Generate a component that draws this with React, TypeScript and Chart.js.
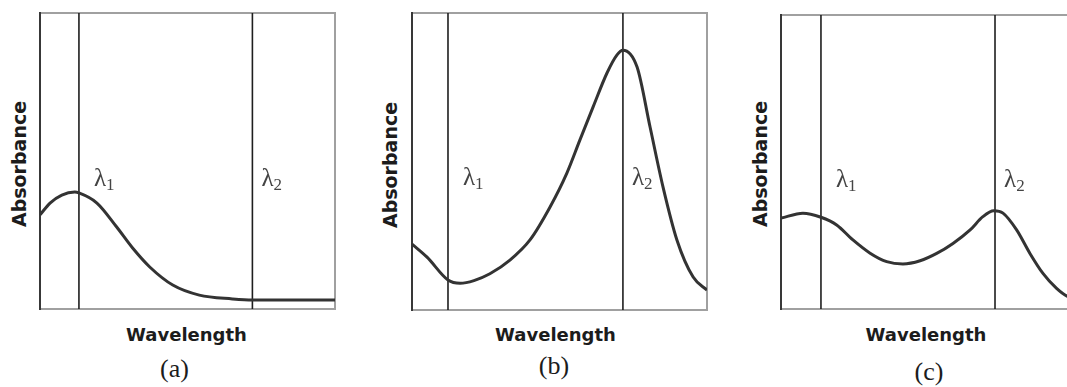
import React, { useEffect, useRef } from "react";
import { Chart, registerables } from "chart.js";

Chart.register(...registerables);

// ---- data (arbitrary wavelength units 0..100, absorbance 0..100) ----
const wavelengthA = [0, 3.4, 7.4, 11.8, 13.2, 19.3, 26, 31.4, 37.2, 45, 54, 65.2, 72, 100];
const absorbanceA = [31.8, 35.8, 38.5, 39.5, 39.2, 35.8, 27.7, 20.6, 14.2, 8.1, 4.7, 3.4, 3.0, 3.0];
const lambdaA = [13.2, 72];

const wavelengthB = [0, 5.1, 12.2, 16.3, 21, 26.4, 33.2, 40, 46.8, 52.5, 56.9, 61.4, 66.1, 69.5, 71.5, 76.3, 80.7, 85.1, 89.8, 95.3, 100];
const absorbanceB = [22.2, 17.8, 10.1, 9.0, 9.9, 12.2, 16.8, 23.6, 34.7, 46.1, 57.2, 68.4, 79.8, 85.9, 87.5, 81.8, 61.6, 41.4, 23.6, 11.1, 6.7];
const lambdaB = [12.2, 71.5];

const wavelengthC = [0, 7.4, 13.5, 18.8, 24.3, 30.1, 35.7, 41.2, 47, 52.6, 58.1, 63.9, 68.2, 71.9, 75, 79.6, 84.1, 88.5, 93.1, 96.6, 100];
const absorbanceC = [30.9, 32.6, 31.2, 28.6, 23.5, 19.0, 16.1, 15.3, 16.4, 18.9, 22.3, 26.9, 31.4, 33.4, 32.6, 26.9, 18.9, 12.1, 7.0, 4.4, 3.5];
const lambdaC = [13.5, 72.3];

const lambdaSubscripts = ["1", "2"];
const panelLetters = ["(a)", "(b)", "(c)"];
const xTitle = "Wavelength";
const yTitle = "Absorbance";

// ---- layout ----
const panels = [
  { left: 40, top: 13, width: 295, height: 296, xs: wavelengthA, ys: absorbanceA, lambdas: lambdaA,
    yTitle: { x: 18.5, y: 163.5 }, xTitle: { x: 186.5, y: 334 }, letter: { x: 174.5, y: 369 }, lblTop: 164 },
  { left: 412, top: 13, width: 295, height: 297, xs: wavelengthB, ys: absorbanceB, lambdas: lambdaB,
    yTitle: { x: 389.5, y: 165 }, xTitle: { x: 555.5, y: 334 }, letter: { x: 554, y: 366 }, lblTop: 163 },
  { left: 781, top: 15, width: 296, height: 294, xs: wavelengthC, ys: absorbanceC, lambdas: lambdaC,
    yTitle: { x: 759.5, y: 164 }, xTitle: { x: 926, y: 334 }, letter: { x: 929, y: 372 }, lblTop: 165 },
];
const lambdaOffsets = [15, 9];
const PAD = 6;

const framePlugin = {
  id: "frame",
  beforeDatasetsDraw(chart: any) {
    const { ctx, chartArea } = chart;
    const { left, top, right, bottom } = chartArea;
    ctx.save();
    ctx.strokeStyle = "#a0a0a0";
    ctx.lineWidth = 2;
    ctx.strokeRect(left, top, right - left, bottom - top);
    ctx.strokeStyle = "#383838";
    ctx.beginPath();
    ctx.moveTo(left, top - 1);
    ctx.lineTo(left, bottom + 1);
    ctx.stroke();
    ctx.restore();
  },
};

function Panel({ p }: { p: any }) {
  const ref = useRef<HTMLCanvasElement | null>(null);
  useEffect(() => {
    if (!ref.current) return;
    const curve = p.xs.map((x: number, i: number) => ({ x, y: p.ys[i] }));
    const lines = p.lambdas.map((l: number) => ({
      type: "line",
      data: [{ x: l, y: 0 }, { x: l, y: 100 }],
      borderColor: "#1e1e1e",
      borderWidth: 1.6,
      pointRadius: 0,
      tension: 0,
    }));
    const chart = new Chart(ref.current, {
      type: "line",
      data: {
        datasets: [
          {
            data: curve,
            borderColor: "#333333",
            borderWidth: 3,
            pointRadius: 0,
            cubicInterpolationMode: "monotone",
          } as any,
          ...lines,
        ],
      },
      options: {
        responsive: false,
        animation: false,
        devicePixelRatio: 1,
        layout: { padding: PAD },
        plugins: { legend: { display: false }, tooltip: { enabled: false } },
        events: [],
        scales: {
          x: { type: "linear", min: 0, max: 100, display: false },
          y: { type: "linear", min: 0, max: 100, display: false },
        },
      },
      plugins: [framePlugin],
    });
    return () => chart.destroy();
  }, [p]);
  const w = p.width + PAD * 2;
  const h = p.height + PAD * 2;
  return (
    <canvas
      ref={ref}
      width={w}
      height={h}
      style={{ position: "absolute", left: p.left - PAD, top: p.top - PAD, width: w, height: h }}
    />
  );
}

const center: React.CSSProperties = {
  position: "absolute",
  whiteSpace: "nowrap",
  lineHeight: 1,
};

export default function App() {
  return (
    <div
      style={{
        position: "fixed",
        left: 0,
        top: 0,
        width: 1067,
        height: 387,
        overflow: "hidden",
        background: "#ffffff",
      }}
    >
      {panels.map((p, i) => (
        <React.Fragment key={i}>
          <Panel p={p} />
          <div
            style={{
              ...center,
              left: p.yTitle.x,
              top: p.yTitle.y,
              transform: "translate(-50%, -50%) rotate(-90deg)",
              font: "bold 19px 'DejaVu Sans'",
              color: "#1c1c1c",
            }}
          >
            {yTitle}
          </div>
          <div
            style={{
              ...center,
              left: p.xTitle.x,
              top: p.xTitle.y,
              transform: "translate(-50%, -50%)",
              font: "bold 18px 'DejaVu Sans'",
              color: "#1c1c1c",
            }}
          >
            {xTitle}
          </div>
          <div
            style={{
              ...center,
              left: p.letter.x,
              top: p.letter.y,
              transform: "translate(-50%, -50%)",
              font: "26px 'Liberation Serif'",
              color: "#1c1c1c",
            }}
          >
            {panelLetters[i]}
          </div>
          {p.lambdas.map((l: number, j: number) => (
            <div
              key={j}
              style={{
                ...center,
                left: p.left + (l / 100) * p.width + lambdaOffsets[j],
                top: p.lblTop,
                lineHeight: "25px",
                font: "25px 'Liberation Serif'",
                color: "#444444",
              }}
            >
              λ
              <span style={{ fontSize: 17, position: "relative", top: 4 }}>{lambdaSubscripts[j]}</span>
            </div>
          ))}
        </React.Fragment>
      ))}
    </div>
  );
}
